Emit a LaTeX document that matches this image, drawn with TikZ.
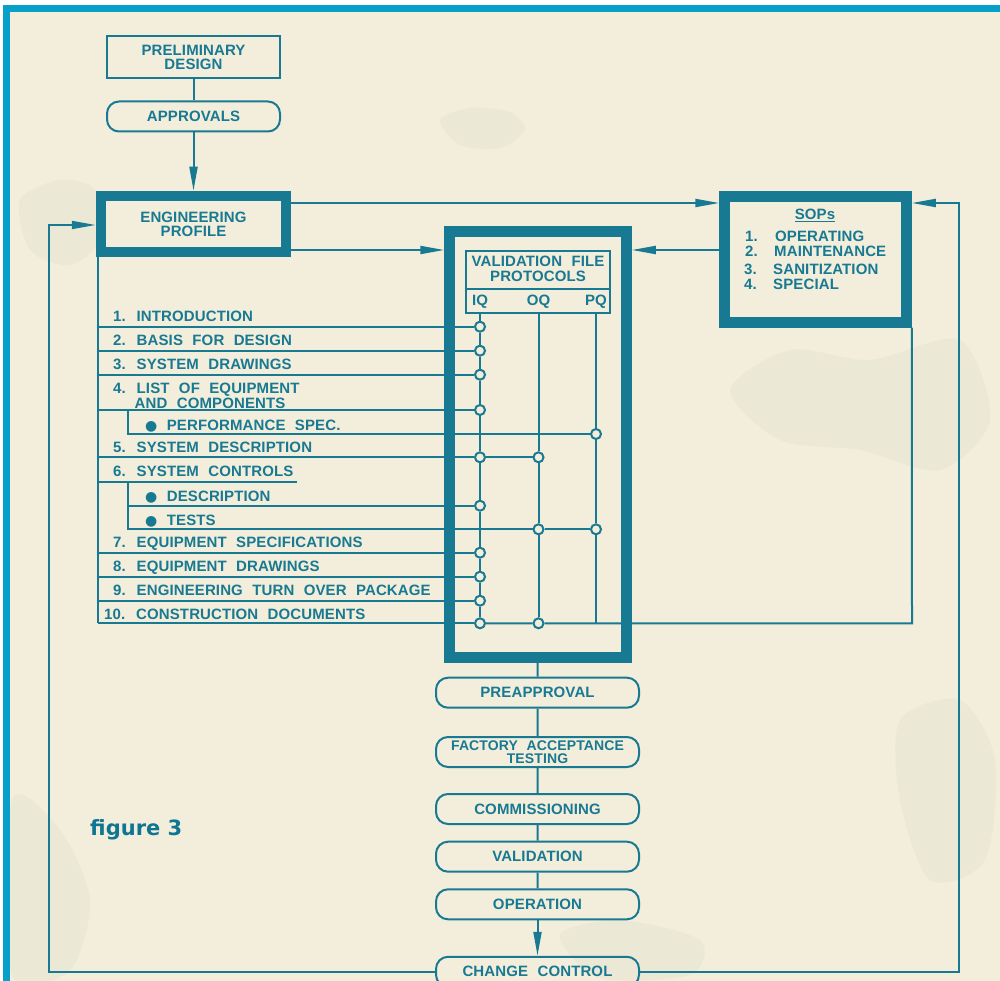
\documentclass[tikz,border=0pt]{standalone}
\usepackage{fontspec}
\setmainfont{Liberation Sans}
\newfontfamily\cadfont[LetterSpace=0.8,WordSpace=2.2]{Liberation Sans}
\newfontfamily\figfont{DejaVu Sans}
\usetikzlibrary{arrows.meta}
\definecolor{ink}{RGB}{24,121,147}
\definecolor{paper}{RGB}{243,238,219}
\definecolor{frameblue}{RGB}{6,160,200}
\definecolor{figteal}{RGB}{14,118,146}
\definecolor{stain}{RGB}{214,212,200}
\newcommand{\blt}{{\figfont\fontsize{14}{14}\selectfont ●}}
\begin{document}
\begin{tikzpicture}[x=1pt,y=-1pt,
  cadtext/.style={text=ink, font=\cadfont\bfseries\fontsize{15}{14}\selectfont},
  box/.style={draw=ink, line width=2, inner sep=0, cadtext, align=center},
  thickbox/.style={box, line width=10.5},
  pill/.style={box, rounded corners=12, minimum width=203, minimum height=30},
  lbl/.style={cadtext, inner sep=0, anchor=base west},
  conn/.style={draw=ink, line width=2},
  arr/.style={conn, -{Triangle[length=24pt,width=8pt]}},
  dot/.style={circle, draw=ink, fill=paper, line width=2, minimum size=10, inner sep=0},
  blob/.style={fill=stain, opacity=0.22}]
\useasboundingbox (0,0) rectangle (1000,981);
\clip (0,0) rectangle (1000,981);
\fill[white] (0,0) rectangle (1000,981);
\fill[paper] (3,5) rectangle (1000,981);
% faint stains
\fill[blob] plot[smooth cycle] coordinates {(440,120) (470,108) (510,112) (525,130) (500,148) (460,145)};
\fill[blob] plot[smooth cycle] coordinates {(20,200) (60,180) (95,190) (100,240) (70,265) (30,250)};
\fill[blob] plot[smooth cycle] coordinates {(730,390) (790,350) (870,360) (960,340) (990,420) (940,470) (860,450) (780,440)};
\fill[blob] plot[smooth cycle] coordinates {(900,720) (960,700) (995,760) (985,860) (930,880) (900,800)};
\fill[blob] plot[smooth cycle] coordinates {(12,800) (60,830) (90,900) (70,970) (12,975)};
\fill[blob] plot[smooth cycle] coordinates {(560,935) (620,920) (700,940) (690,975) (600,978)};
% frame
\fill[frameblue] (3,5) rectangle (1000,12);
\fill[frameblue] (3,5) rectangle (10,981);

% top chain
\node[box, minimum width=173, minimum height=42] (prelim) at (193.5,57) {PRELIMINARY\\DESIGN};
\node[pill, minimum width=173] (appr) at (193.5,116.5) {APPROVALS};
\node[thickbox, minimum width=185, minimum height=56] (ep) at (193.5,224) {ENGINEERING\\PROFILE};
\node[thickbox, minimum width=177, minimum height=426] (val) at (538,444.5) {};
\node[thickbox, minimum width=182, minimum height=126] (sops) at (815.5,259.5) {};

% SOPs text
\node[lbl, anchor=base] (sopt) at (815,220) {\underline{SOPs}};
\node[lbl] (sn1) at (745,242) {1.};
\node[lbl] (so1) at (775,242) {OPERATING};
\node[lbl] (sn2) at (745,256.7) {2.};
\node[lbl] (so2) at (774,256.7) {MAINTENANCE};
\node[lbl] (sn3) at (744,274.3) {3.};
\node[lbl] (so3) at (773,274.3) {SANITIZATION};
\node[lbl] (sn4) at (744,289.3) {4.};
\node[lbl] (so4) at (773,289.3) {SPECIAL};

% validation header
\node[box, minimum width=144, minimum height=62] (hdr) at (538,282) {};
\draw[conn] (hdr.west |- 0,289) -- (hdr.east |- 0,289);
\node[lbl, anchor=base] (ht1) at (538,267) {VALIDATION FILE};
\node[lbl, anchor=base] (ht2) at (538,282) {PROTOCOLS};
\node[lbl, anchor=base] (iq) at (480,305.7) {IQ};
\node[lbl, anchor=base] (oq) at (538.5,305.7) {OQ};
\node[lbl, anchor=base] (pq) at (596,305.7) {PQ};

% circles
\foreach \n/\y in {1/326.7,2/350.7,3/374.7,4/410,5/457.3,6a/505.7,7/552.7,8/576.7,9/600.7,10/623.3}
  \node[dot] (i\n) at (480,\y) {};
\node[dot] (o5) at (538.5,457.3) {};
\node[dot] (o6b) at (538.5,529.3) {};
\node[dot] (o10) at (538.5,623.3) {};
\node[dot] (p4a) at (596,434) {};
\node[dot] (p6b) at (596,529.3) {};

% left spine coordinates
\coordinate (spT) at (98,257);
\foreach \n/\y in {1/326.7,2/350.7,3/374.7,4/410,5/457.3,6/481.7,6a/505.7,7/552.7,8/576.7,9/600.7,10/623.3}
  \coordinate (L\n) at (98,\y);
\coordinate (S4) at (128,410);
\coordinate (S4a) at (128,434);
\coordinate (S6) at (128,481.7);
\coordinate (S6a) at (128,505.7);
\coordinate (S6b) at (128,529.3);
\coordinate (E6) at (297,481.7);
\coordinate (Pj) at (596,623.3);
\coordinate (Rj) at (912,623.3);

% verticals in validation box
\draw[conn] (iq |- hdr.south) -- (i1) -- (i2) -- (i3) -- (i4) -- (i5) -- (i6a) -- (i7) -- (i8) -- (i9) -- (i10);
\draw[conn] (oq |- hdr.south) -- (o5) -- (o6b) -- (o10);
\draw[conn] (pq |- hdr.south) -- (p4a) -- (p6b) -- (Pj);

% list rows
\draw[conn] (spT) -- (L10);
\foreach \n in {1,2,3,4,5,7,8,9,10}
  \draw[conn] (L\n) -- (i\n);
\draw[conn] (S4) -- (S4a) -- (p4a);
\draw[conn] (i5) -- (o5);
\draw[conn] (L6) -- (E6);
\draw[conn] (S6) -- (S6b) -- (o6b) -- (p6b);
\draw[conn] (S6a) -- (i6a);
\draw[conn] (i10) -- (o10) -- (Rj) -- (sops.south east);

% list labels
\node[lbl] (t1) at (113,321.7) {1. INTRODUCTION};
\node[lbl] (t2) at (113,345.7) {2. BASIS FOR DESIGN};
\node[lbl] (t3) at (113,369) {3. SYSTEM DRAWINGS};
\node[lbl] (t4) at (113,393) {4. LIST OF EQUIPMENT};
\node[lbl] (t4b) at (134.5,408.3) {AND COMPONENTS};
\node[lbl] (t4a) at (145,430) {\blt\ PERFORMANCE SPEC.};
\node[lbl] (t5) at (113,452.7) {5. SYSTEM DESCRIPTION};
\node[lbl] (t6) at (113,476.7) {6. SYSTEM CONTROLS};
\node[lbl] (t6a) at (145,501) {\blt\ DESCRIPTION};
\node[lbl] (t6b) at (145,525) {\blt\ TESTS};
\node[lbl] (t7) at (113,547.7) {7. EQUIPMENT SPECIFICATIONS};
\node[lbl] (t8) at (113,571.7) {8. EQUIPMENT DRAWINGS};
\node[lbl] (t9) at (113,595) {9. ENGINEERING TURN OVER PACKAGE};
\node[lbl] (t10) at (104,619) {10. CONSTRUCTION DOCUMENTS};

% bottom chain
\node[pill] (pre) at (537.5,692.7) {PREAPPROVAL};
\node[pill, font=\cadfont\bfseries\fontsize{14}{12.6}\selectfont] (fat) at (537.5,752) {FACTORY ACCEPTANCE\\TESTING};
\node[pill] (com) at (537.5,809) {COMMISSIONING};
\node[pill] (vld) at (537.5,856.7) {VALIDATION};
\node[pill] (op) at (537.5,904.3) {OPERATION};
\node[pill] (cc) at (537.5,971.8) {CHANGE CONTROL};

\node[text=figteal, font=\figfont\bfseries\fontsize{21}{21}\selectfont, anchor=west, inner sep=0] (fig) at (90,830) {figure 3};

% connectors
\draw[conn] (prelim) -- (appr);
\draw[arr] (appr) -- (ep);
\draw[arr] (ep.east |- 0,203) -- (sops.west |- 0,203);
\draw[arr] (ep.east |- 0,250) -- (val.west |- 0,250);
\draw[arr] (sops.west |- 0,250) -- (val.east |- 0,250);
\draw[conn] (val) -- (pre) -- (fat) -- (com) -- (vld) -- (op);
\draw[arr] (op) -- (cc);
\coordinate (RB) at (959,971.8);
\coordinate (RT) at (959,203);
\coordinate (LB) at (49,971.8);
\coordinate (LT) at (49,225);
\draw[arr] (cc.east) -- (RB) -- (RT) -- (sops.east |- RT);
\draw[arr] (cc.west) -- (LB) -- (LT) -- (ep.west |- LT);
\end{tikzpicture}
\end{document}
